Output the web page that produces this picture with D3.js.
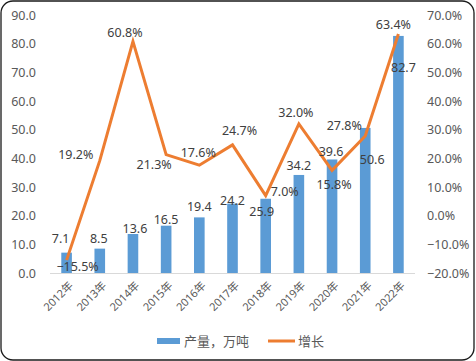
<!DOCTYPE html>
<html><head><meta charset="utf-8">
<script src="https://cdn.jsdelivr.net/npm/d3@7"></script>
<style>body{margin:0;background:#fff}svg{display:block}</style>
</head><body><svg id="c" width="476" height="361"></svg>
<script>
const years = ["2012年","2013年","2014年","2015年","2016年","2017年","2018年","2019年","2020年","2021年","2022年"];
const output = [7.1, 8.5, 13.6, 16.5, 19.4, 24.2, 25.9, 34.2, 39.6, 50.6, 82.7];
const growth = [-15.5, 19.2, 60.8, 21.3, 17.6, 24.7, 7.0, 32.0, 15.8, 27.8, 63.4];
const leftTicks = [0,10,20,30,40,50,60,70,80,90];
const rightTicks = [-20,-10,0,10,20,30,40,50,60,70];
const seriesNames = ["产量，万吨","增长"];

// label offsets (layout only)
const barLblOff = [[-6,-14],[-1,-10],[2,-6],[0,-6],[0,-11],[0,-3],[-4,13],[0,-9],[-1,-8],[7,32],[5,32]];
const lineLblOff = [[11,6],[-24,-6],[-8,-9],[-12,10],[-1,-13],[7,-14],[19,-4],[-3,-11],[2,14],[-21,-10],[-5,-9]];

const svg = d3.select("#c");
const font = "'Noto Sans','Noto Sans CJK SC',sans-serif";
svg.append("rect").attr("x",1).attr("y",1).attr("width",473).attr("height",359)
  .attr("rx",12).attr("fill","#fff").attr("stroke","#1a1a1a").attr("stroke-width",1.3);

const x = d3.scaleBand().domain(years).range([50,415]).paddingInner(0.68).paddingOuter(0.34);
const xc = d => x(d) + x.bandwidth()/2;
const yL = d3.scaleLinear().domain([0,90]).range([273,15]);
const yR = d3.scaleLinear().domain([-20,70]).range([273,15]);

const tickColor = "#595959";
const gl = svg.append("g").attr("transform","translate(36,0)")
  .call(d3.axisLeft(yL).tickValues(leftTicks).tickFormat(d3.format(".1f")).tickSize(0).tickPadding(0));
gl.select(".domain").remove();
gl.selectAll("text").attr("fill",tickColor).style("font-family",font).style("font-size","12.5px");

const gr = svg.append("g").attr("transform","translate(427,0)")
  .call(d3.axisRight(yR).tickValues(rightTicks).tickFormat(d => d3.format(".1f")(d)+"%").tickSize(0).tickPadding(0));
gr.select(".domain").remove();
gr.selectAll("text").attr("fill",tickColor).style("font-family",font).style("font-size","12.5px");

// baseline
svg.append("line").attr("x1",50).attr("x2",415).attr("y1",yL(0)+0.5).attr("y2",yL(0)+0.5)
  .attr("stroke","#d9d9d9").attr("stroke-width",1);

// bars
svg.selectAll(".bar").data(output).join("rect")
  .attr("x",(d,i)=>x(years[i])).attr("width",x.bandwidth())
  .attr("y",d=>yL(d)).attr("height",d=>yL(0)-yL(d)).attr("fill","#5B9BD5");

// line
const line = d3.line().x((d,i)=>xc(years[i])).y(d=>yR(d));
svg.append("path").datum(growth).attr("d",line).attr("fill","none")
  .attr("stroke","#ED7D31").attr("stroke-width",3).attr("stroke-linejoin","miter");

// x labels
svg.selectAll(".xl").data(years).join("text")
  .attr("transform",d=>`translate(${xc(d)+4},${283}) rotate(-45)`)
  .attr("text-anchor","end").attr("dominant-baseline","central")
  .attr("fill",tickColor).style("font-family",font).style("font-size","11px").text(d=>d);

// bar labels
svg.selectAll(".bl").data(output).join("text")
  .attr("x",(d,i)=>xc(years[i])+barLblOff[i][0]).attr("y",(d,i)=>yL(d)+barLblOff[i][1])
  .attr("text-anchor","middle").attr("dominant-baseline","central")
  .attr("fill","#404040").style("font-family",font).style("font-size","12.5px")
  .text(d=>d3.format(".1f")(d));

// line labels
svg.selectAll(".ll").data(growth).join("text")
  .attr("x",(d,i)=>xc(years[i])+lineLblOff[i][0]).attr("y",(d,i)=>yR(d)+lineLblOff[i][1])
  .attr("text-anchor","middle").attr("dominant-baseline","central")
  .attr("fill","#404040").style("font-family",font).style("font-size","12.5px")
  .text(d=>d3.format(".1f")(d)+"%");

// legend
const lg = svg.append("g");
lg.append("rect").attr("x",157).attr("y",338).attr("width",23).attr("height",6).attr("fill","#5B9BD5");
lg.append("text").attr("x",184).attr("y",341).attr("dominant-baseline","central")
  .attr("fill",tickColor).style("font-family",font).style("font-size","13px").text(seriesNames[0]);
lg.append("line").attr("x1",268).attr("x2",295).attr("y1",341).attr("y2",341)
  .attr("stroke","#ED7D31").attr("stroke-width",3);
lg.append("text").attr("x",298).attr("y",341).attr("dominant-baseline","central")
  .attr("fill",tickColor).style("font-family",font).style("font-size","13px").text(seriesNames[1]);
</script></body></html>
